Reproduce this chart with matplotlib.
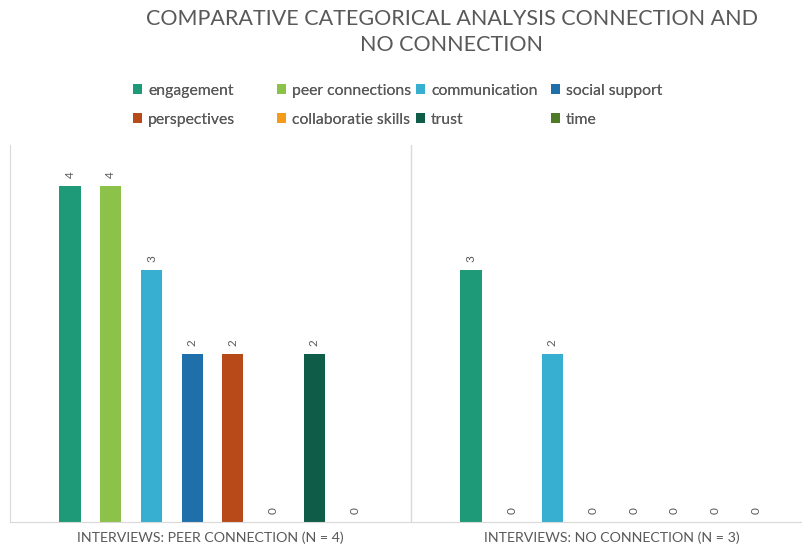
import matplotlib.pyplot as plt
import numpy as np

groups = ["INTERVIEWS: PEER CONNECTION (N = 4)", "INTERVIEWS: NO CONNECTION (N = 3)"]
categories = ["engagement", "peer connections", "communication", "social support",
              "perspectives", "collaboratie skills", "trust", "time"]
values = {
    "engagement": [4, 3],
    "peer connections": [4, 0],
    "communication": [3, 2],
    "social support": [2, 0],
    "perspectives": [2, 0],
    "collaboratie skills": [0, 0],
    "trust": [2, 0],
    "time": [0, 0],
}
colors = ["#1E9A78", "#8CC14A", "#36AFD1", "#1F6FAA",
          "#B84A1A", "#F39C1C", "#0F5C48", "#4E7B25"]

plt.rcParams["font.family"] = ["Lato", "DejaVu Sans"]
grey = "#595959"

fig = plt.figure(figsize=(8.03, 5.48), dpi=100)
ax = fig.add_axes([10 / 803, 26 / 548, 793 / 803, 377 / 548])

x = np.arange(len(groups))
step = 0.1015
width = 0.053
handles = []
for i, (cat, col) in enumerate(zip(categories, colors)):
    pos = x + (i - 3.5) * step + 0.005
    h = ax.bar(pos, values[cat], width, color=col, label=cat)
    handles.append(h)
    for px, v in zip(pos, values[cat]):
        ax.text(px, v + 0.1, str(v), rotation=90, ha="center", va="bottom",
                fontsize=8.5, color=grey)

ax.set_xlim(-0.5, -0.5 + 793 / 401)
ax.set_ylim(0, 4.49)
ax.axvline(0.5, color="#d9d9d9", lw=1)
for s in ("top", "right"):
    ax.spines[s].set_visible(False)
ax.spines["left"].set_color("#d9d9d9")
ax.spines["bottom"].set_color("#d9d9d9")
ax.set_yticks([])
ax.set_xticks(x)
ax.set_xticklabels(groups, fontsize=10.2, color=grey)
ax.tick_params(axis="x", length=0, pad=7)

fig.text(452 / 803, 1 - 32 / 548, "COMPARATIVE CATEGORICAL ANALYSIS CONNECTION AND\nNO CONNECTION",
         ha="center", va="center", fontsize=15.5, color=grey, linespacing=1.4)

# fixed-width legend columns, filled row by row
col_x = [133, 277, 416, 551]
for j, cx in enumerate(col_x):
    idx = [j, j + 4]
    leg = fig.legend(handles=[handles[k] for k in idx], labels=[categories[k] for k in idx],
                     loc="upper left", bbox_to_anchor=(cx / 803, 1 - 84 / 548),
                     frameon=False, fontsize=11.3, labelcolor=grey,
                     handlelength=0.6, handleheight=0.6, handletextpad=0.35,
                     labelspacing=0.95, borderpad=0, borderaxespad=0)
    fig.add_artist(leg)

fig.savefig("out.png", dpi=100)
